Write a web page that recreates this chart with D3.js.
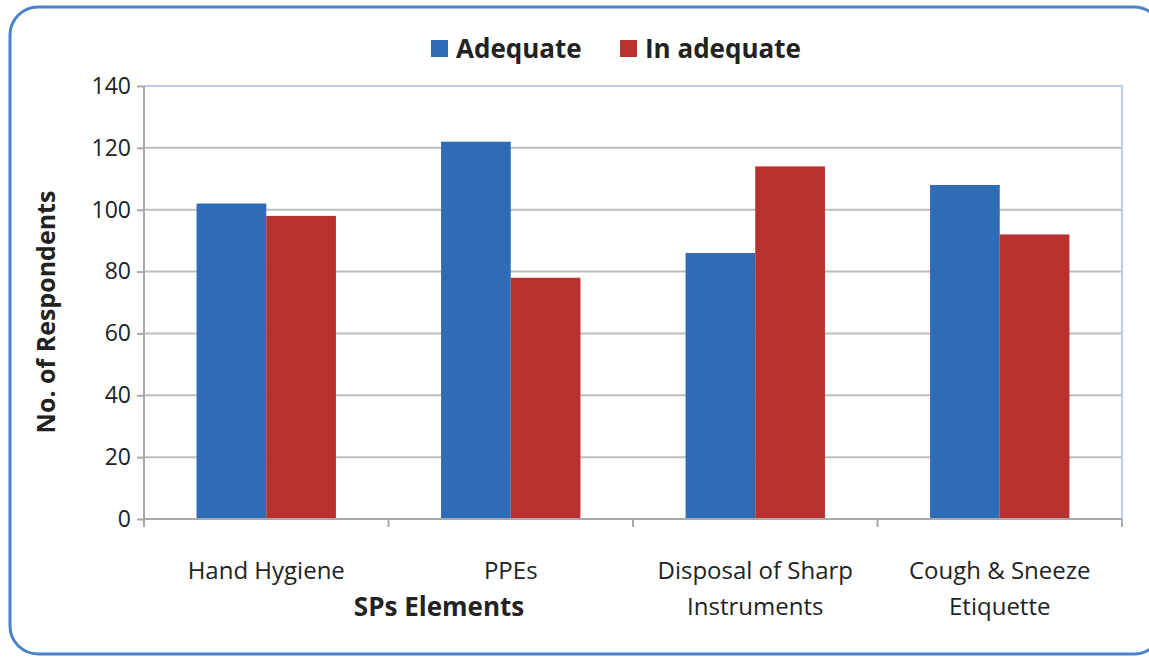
<!DOCTYPE html>
<html>
<head>
<meta charset="utf-8">
<script src="https://cdn.jsdelivr.net/npm/d3@7"></script>
<style>
  body { margin: 0; background: #fff; }
  text { font-family: "Open Sans", sans-serif; fill: #222; }
</style>
</head>
<body>
<div id="chart"></div>
<script>
var categories = [["Hand Hygiene"], ["PPEs"], ["Disposal of Sharp", "Instruments"], ["Cough & Sneeze", "Etiquette"]];
var seriesNames = ["Adequate", "In adequate"];
var adequate = [102, 122, 86, 108];
var inadequate = [98, 78, 114, 92];
var yTicks = [0, 20, 40, 60, 80, 100, 120, 140];
var colors = ["#2f6cb6", "#b9312f"];

plot_bar_graph("#chart");

function plot_bar_graph (htmlObjectId) {
    var width = 1149;
    var height = 659;
    var left = 144, right = 1122, top = 86, bottom = 519;

    var svg = d3.select(htmlObjectId)
                .append("svg")
                .attr("width", width)
                .attr("height", height);

    // outer frame
    svg.append("rect")
        .attr("x", 10).attr("y", 7)
        .attr("width", 1152).attr("height", 647)
        .attr("rx", 28)
        .attr("fill", "none")
        .attr("stroke", "#4a82cc")
        .attr("stroke-width", 3);

    var x = d3.scaleBand()
              .domain(d3.range(categories.length))
              .range([left, right])
              .paddingInner(0.43)
              .paddingOuter(0.215);

    var xSub = d3.scaleBand()
                 .domain(d3.range(seriesNames.length))
                 .range([0, x.bandwidth()]);

    var y = d3.scaleLinear()
              .domain([0, 140])
              .range([bottom, top]);

    // gridlines
    svg.append("g")
        .selectAll("line")
        .data(yTicks.filter(function(d) { return d > 0 && d < 140; }))
        .enter()
            .append("line")
            .attr("x1", left).attr("x2", right)
            .attr("y1", function(d) { return y(d); })
            .attr("y2", function(d) { return y(d); })
            .attr("stroke", "#bdbdbd")
            .attr("stroke-width", 2);

    // plot area top and right borders
    svg.append("path")
        .attr("d", "M" + left + "," + y(140) + "H" + right + "V" + y(0))
        .attr("fill", "none")
        .attr("stroke", "#b7cde9")
        .attr("stroke-width", 2);

    var rows = adequate.map(function(d, i) { return [d, inadequate[i]]; });

    svg.append("g")
        .selectAll("g")
        .data(rows)
        .enter()
            .append("g")
            .attr("transform", function(d, i) { return "translate(" + x(i) + ",0)"; })
            .selectAll("rect")
            .data(function(d) { return d; })
            .enter()
                .append("rect")
                .attr("x", function(d, j) { return xSub(j); })
                .attr("y", function(d) { return y(d); })
                .attr("width", xSub.bandwidth())
                .attr("height", function(d) { return y(0) - y(d); })
                .attr("fill", function(d, j) { return colors[j]; });

    // y axis
    var yAxis = d3.axisLeft(y)
                  .tickValues(yTicks)
                  .tickSize(7)
                  .tickPadding(6);

    var gy = svg.append("g")
        .attr("transform", "translate(" + left + ",0)")
        .call(yAxis);
    gy.select(".domain").attr("stroke", "#a8a8a8").attr("stroke-width", 2).attr("d", "M0," + y(140) + "V" + (y(0) + 8));
    gy.selectAll(".tick line").attr("stroke", "#a8a8a8").attr("stroke-width", 2);
    gy.selectAll(".tick text")
        .style("font-family", "'Open Sans', sans-serif")
        .style("font-size", "23px")
        .attr("fill", "#333");

    // x axis line and boundary ticks
    var bounds = d3.range(categories.length + 1).map(function(i) { return left + i * x.step(); });
    svg.append("line")
        .attr("x1", left).attr("x2", right)
        .attr("y1", y(0)).attr("y2", y(0))
        .attr("stroke", "#a8a8a8").attr("stroke-width", 2);
    svg.append("g")
        .selectAll("line")
        .data(bounds)
        .enter()
            .append("line")
            .attr("x1", function(d) { return d; })
            .attr("x2", function(d) { return d; })
            .attr("y1", y(0)).attr("y2", y(0) + 8)
            .attr("stroke", "#a8a8a8").attr("stroke-width", 2);

    // category labels
    var labels = svg.append("g")
        .selectAll("text")
        .data(categories)
        .enter()
            .append("text")
            .attr("text-anchor", "middle")
            .attr("x", function(d, i) { return x(i) + x.bandwidth() / 2; })
            .attr("y", 579)
            .style("font-size", "24px")
            .attr("fill", "#333");
    labels.selectAll("tspan")
        .data(function(d) { return d; })
        .enter()
            .append("tspan")
            .attr("x", function() { return d3.select(this.parentNode).attr("x"); })
            .attr("dy", function(d, k) { return k === 0 ? 0 : 36; })
            .text(function(d) { return d; });

    // axis titles
    svg.append("text")
        .attr("x", 439).attr("y", 616)
        .attr("text-anchor", "middle")
        .style("font-size", "26px")
        .style("font-weight", "bold")
        .text("SPs Elements");

    svg.append("text")
        .attr("transform", "translate(55,312) rotate(-90)")
        .attr("text-anchor", "middle")
        .style("font-size", "25px")
        .style("font-weight", "bold")
        .text("No. of Respondents");

    // legend
    var legendX = [431, 620];
    var legend = svg.append("g")
        .selectAll("g")
        .data(seriesNames)
        .enter()
            .append("g")
            .attr("transform", function(d, i) { return "translate(" + legendX[i] + ",40)"; });
    legend.append("rect")
        .attr("width", 17).attr("height", 17)
        .attr("fill", function(d, i) { return colors[i]; });
    legend.append("text")
        .attr("x", 25).attr("y", 18)
        .style("font-size", "26px")
        .style("font-weight", "bold")
        .text(function(d) { return d; });
}
</script>
</body>
</html>
